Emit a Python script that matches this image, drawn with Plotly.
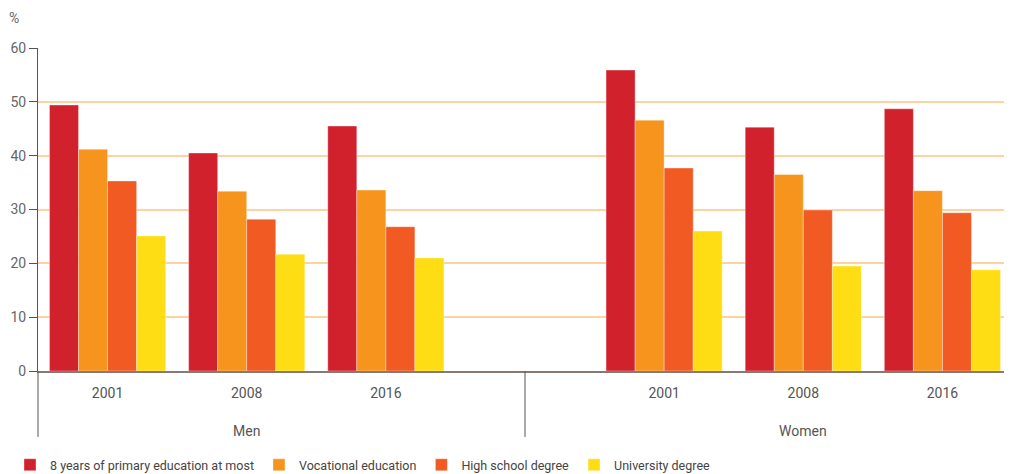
import plotly.graph_objects as go

slots = ["Men 2001", "Men 2008", "Men 2016", " ", "Women 2001", "Women 2008", "Women 2016"]
bar_cats = ["Men 2001", "Men 2008", "Men 2016", "Women 2001", "Women 2008", "Women 2016"]
year_labels = ["2001", "2008", "2016", "2001", "2008", "2016"]
groups = ["Men", "Women"]

series_names = ["8 years of primary education at most", "Vocational education",
                "High school degree", "University degree"]
primary = [49.4, 40.5, 45.5, 55.9, 45.3, 48.7]
vocational = [41.2, 33.4, 33.6, 46.6, 36.5, 33.5]
highschool = [35.3, 28.2, 26.8, 37.7, 29.9, 29.4]
university = [25.1, 21.7, 21.0, 26.0, 19.5, 18.8]
colors = ["#d0212d", "#f7941d", "#f15a22", "#ffdd15"]

fig = go.Figure()
for name, vals, col in zip(series_names, [primary, vocational, highschool, university], colors):
    fig.add_trace(go.Bar(x=bar_cats, y=vals, name=name, marker_color=col,
                         marker_line=dict(color="rgba(255,255,255,0.6)", width=0.6)))

# page body has an 8px margin, so the figure is sized / placed to compensate
W, H = 1004, 466
L, T, PH = 30, 40, 323
font_fam = "Roboto, Open Sans, sans-serif"
fig.update_layout(
    width=W, height=H,
    margin=dict(l=L, r=0, t=T, b=H - T - PH, autoexpand=False),
    paper_bgcolor="white", plot_bgcolor="white",
    barmode="group", bargap=0.165, bargroupgap=0,
    font=dict(family=font_fam, size=13, color="#555555"),
    showlegend=True,
    legend=dict(orientation="h", xref="container", yref="container",
                x=0.002, y=0.019, xanchor="left", yanchor="middle",
                font=dict(size=12.5, color="#444444"), traceorder="normal",
                itemwidth=30, bgcolor="rgba(0,0,0,0)"),
)
fig.update_xaxes(type="category", categoryorder="array", categoryarray=slots,
                 range=[-0.5, 6.5], tickvals=bar_cats, ticktext=year_labels,
                 showgrid=False, ticks="", showline=True, linecolor="#857b73", linewidth=2,
                 tickfont=dict(size=14, color="#555555"), zeroline=False, ticklabelstandoff=8,
                 automargin=False)
fig.update_yaxes(range=[0, 60], tickvals=[0, 10, 20, 30, 40, 50, 60],
                 showgrid=True, gridcolor="#fdd3a2", gridwidth=1.5,
                 showline=True, linecolor="#555555", linewidth=1,
                 ticks="outside", ticklen=8, tickcolor="#555555",
                 tickfont=dict(size=14, color="#666666"), zeroline=False, automargin=False)

# y-axis line extension below plot, and group divider
fig.add_shape(type="line", xref="paper", yref="paper", x0=0, x1=0, y0=-0.204, y1=0,
              line=dict(color="#555555", width=1))
fig.add_shape(type="line", xref="x", yref="paper", x0=3, x1=3, y0=-0.204, y1=0,
              line=dict(color="#555555", width=1))
fig.add_annotation(x=bar_cats[1], xref="x", y=-0.186, yref="paper", text=groups[0],
                   showarrow=False, yanchor="middle", font=dict(size=14, color="#555555"))
fig.add_annotation(x=bar_cats[4], xref="x", y=-0.186, yref="paper", text=groups[1],
                   showarrow=False, yanchor="middle", font=dict(size=14, color="#555555"))
fig.add_annotation(xref="paper", x=(14 - 38) / 974, yref="paper", y=1 + (48 - 18) / PH,
                   text="%", showarrow=False, xanchor="center", yanchor="middle",
                   font=dict(size=14, color="#666666"))

fig.write_html("out.html")
